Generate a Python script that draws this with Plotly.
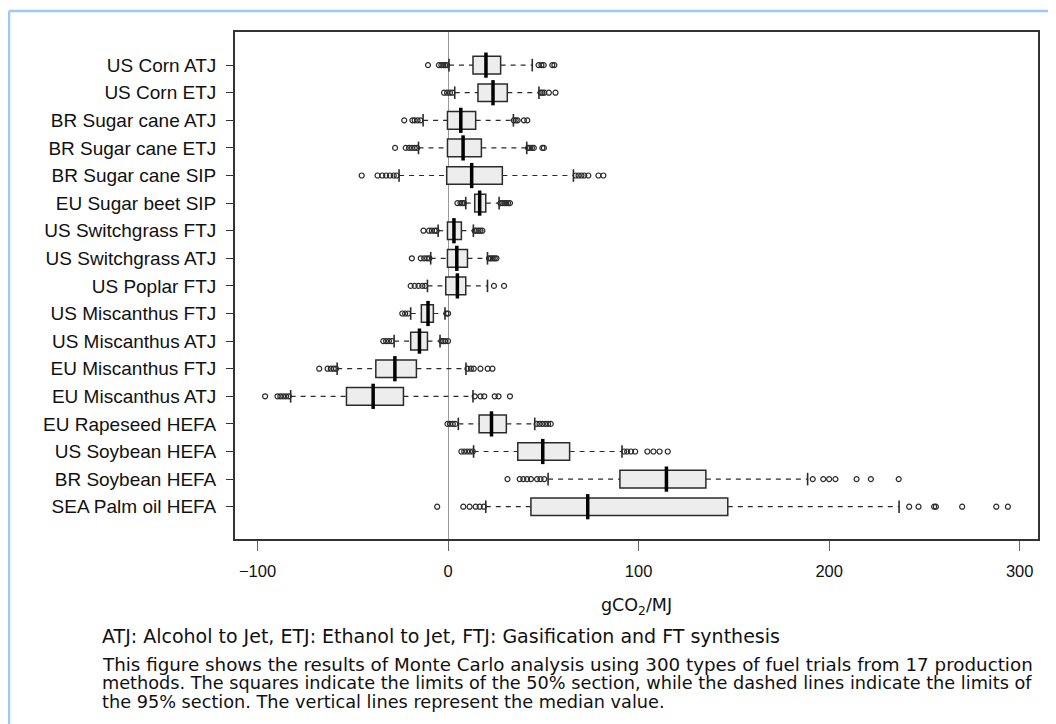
import plotly.graph_objects as go

categories = [
    "US Corn ATJ", "US Corn ETJ", "BR Sugar cane ATJ", "BR Sugar cane ETJ",
    "BR Sugar cane SIP", "EU Sugar beet SIP", "US Switchgrass FTJ",
    "US Switchgrass ATJ", "US Poplar FTJ", "US Miscanthus FTJ",
    "US Miscanthus ATJ", "EU Miscanthus FTJ", "EU Miscanthus ATJ",
    "EU Rapeseed HEFA", "US Soybean HEFA", "BR Soybean HEFA", "SEA Palm oil HEFA",
]
q1 = [13.1, 15.7, -0.3, -0.3, -0.7, 14.0, -0.3, -0.3, -1.2, -14.0, -19.6, -37.9, -53.3, 16.3, 36.6, 90.2, 43.5]
median = [19.9, 23.6, 6.7, 7.9, 12.4, 16.6, 3.1, 4.6, 4.9, -10.5, -15.0, -27.9, -39.3, 22.8, 49.7, 114.6, 73.3]
q3 = [27.6, 31.1, 14.5, 17.5, 28.5, 19.8, 7.0, 10.2, 9.3, -7.7, -10.8, -16.6, -23.4, 30.6, 63.8, 135.3, 146.8]
whisker_low = [0.5, 3.5, -13.1, -15.5, -25.7, 9.3, -5.2, -9.1, -10.8, -19.6, -28.3, -58.2, -82.6, 5.4, 13.4, 52.5, 19.8]
whisker_high = [44.2, 47.7, 34.3, 41.3, 65.8, 26.8, 13.3, 20.7, 20.7, -1.6, -4.2, 9.4, 13.1, 45.5, 91.3, 188.7, 236.7]
outliers = [
    [-10.5, -4.8, -3.5, -2.5, -1.5, -0.5, 47.5, 49.0, 50.2, 54.7, 55.8],
    [-2.1, -0.5, 1.0, 2.3, 48.6, 49.5, 50.5, 52.9, 56.4],
    [-23.0, -18.7, -17.5, -16.0, -14.5, 34.5, 35.5, 36.5, 39.8, 41.6],
    [-27.8, -22.2, -20.5, -19.0, -17.5, -16.2, 42.0, 43.0, 44.0, 45.0, 49.5, 50.3],
    [-45.3, -37.0, -34.5, -32.5, -30.5, -28.5, -27.0, 67.0, 68.5, 70.0, 71.5, 73.6, 78.9, 81.5],
    [4.9, 6.5, 7.5, 8.4, 27.5, 28.5, 29.5, 30.5, 31.5, 32.5],
    [-12.9, -10.0, -8.5, -7.0, -6.0, 14.0, 15.0, 16.0, 17.0, 18.0],
    [-19.0, -14.3, -12.5, -11.0, -9.8, 21.5, 22.5, 23.5, 24.5, 25.4],
    [-19.6, -17.5, -15.5, -13.5, -12.0, 24.1, 29.4],
    [-24.0, -22.5, -21.0, -0.9, 0.0],
    [-34.0, -32.5, -31.0, -29.5, -3.5, -2.5, -1.5, 0.0],
    [-67.6, -63.2, -61.5, -60.0, -58.8, 10.2, 12.0, 13.5, 17.0, 20.8, 23.3],
    [-96.0, -89.5, -88.0, -86.5, -85.0, -83.5, 14.0, 17.0, 19.0, 24.5, 26.5, 32.5],
    [-0.3, 1.0, 2.5, 3.8, 46.5, 48.0, 49.5, 51.0, 52.5, 53.9],
    [7.0, 8.5, 10.0, 11.5, 13.0, 92.4, 94.0, 96.0, 98.2, 104.6, 107.8, 111.0, 115.3],
    [31.2, 37.6, 39.5, 41.5, 43.5, 46.7, 48.5, 50.5, 191.4, 196.9, 200.0, 203.3, 214.4, 221.9, 236.5],
    [-5.7, 8.0, 11.3, 14.5, 16.6, 18.8, 242.0, 246.9, 255.1, 256.0, 269.8, 287.7, 293.8],
]
x_ticks = [-100, 0, 100, 200, 300]
x_title = "gCO<sub>2</sub>/MJ"
caption_lines = [
    "ATJ: Alcohol to Jet, ETJ: Ethanol to Jet, FTJ: Gasification and FT synthesis",
    "This figure shows the results of Monte Carlo analysis using 300 types of fuel trials from 17 production",
    "methods. The squares indicate the limits of the 50% section, while the dashed lines indicate the limits of",
    "the 95% section. The vertical lines represent the median value.",
]

INK = "#2b2b2b"
fig = go.Figure()

fig.add_trace(go.Box(
    y=categories, q1=q1, median=median, q3=q3,
    lowerfence=q1, upperfence=q3, orientation="h",
    fillcolor="#ededed", line=dict(color=INK, width=1.5),
    whiskerwidth=0, boxpoints=False, width=0.64, showlegend=False,
    hoverinfo="skip",
))

wx, wy = [], []
for c, a, b, lo, hi in zip(categories, q1, q3, whisker_low, whisker_high):
    wx += [b, hi, None, lo, a, None]
    wy += [c, c, None, c, c, None]
fig.add_trace(go.Scatter(x=wx, y=wy, mode="lines",
                         line=dict(color=INK, width=1.2, dash="5px,5px"),
                         showlegend=False, hoverinfo="skip"))

sx, sy = [], []
for c, lo, hi in zip(categories, whisker_low, whisker_high):
    sx += [lo, hi]
    sy += [c, c]
fig.add_trace(go.Scatter(x=sx, y=sy, mode="markers",
                         marker=dict(symbol="line-ns", size=9, color=INK,
                                     line=dict(color=INK, width=1.6)),
                         showlegend=False, hoverinfo="skip"))

fig.add_trace(go.Scatter(x=median, y=categories, mode="markers",
                         marker=dict(symbol="line-ns", size=18, color="#000000",
                                     line=dict(color="#000000", width=3.5)),
                         showlegend=False, hoverinfo="skip"))

ox, oy = [], []
for c, vals in zip(categories, outliers):
    ox += vals
    oy += [c] * len(vals)
fig.add_trace(go.Scatter(x=ox, y=oy, mode="markers",
                         marker=dict(symbol="circle-open", size=5, color=INK,
                                     line=dict(color=INK, width=1.2)),
                         showlegend=False, hoverinfo="skip"))

# the page body adds an 8px offset; work in page pixels and convert
OFF = 8
W, H = 1056 - OFF, 724 - OFF
PW, PH = 803, 507
L, T = 235 - OFF, 32 - OFF


def px(x):
    return (x - OFF - L) / PW


def py(y):
    return (T + PH - (y - OFF)) / PH


annotations = [dict(text=x_title, x=px(636), y=py(606), xref="paper", yref="paper",
                    showarrow=False, xanchor="center", yanchor="middle",
                    font=dict(family="DejaVu Sans", size=17.5, color="#111"))]
for line, yc, fs in zip(caption_lines, [636, 664, 683, 702], [19.0, 18.3, 17.7, 17.7]):
    annotations.append(dict(text=line, x=px(100), y=py(yc), xref="paper", yref="paper",
                            showarrow=False, xanchor="left", yanchor="middle",
                            font=dict(family="DejaVu Sans", size=fs, color="#111")))

shapes = [
    dict(type="line", xref="paper", yref="paper", x0=px(9), x1=px(1056), y0=py(11), y1=py(11),
         line=dict(color="#9cc8fa", width=2.5)),
    dict(type="line", xref="paper", yref="paper", x0=px(9), x1=px(9), y0=py(11), y1=py(724),
         line=dict(color="#9cc8fa", width=2.5)),
]

fig.update_layout(
    width=W, height=H,
    margin=dict(l=L, r=W - L - PW, t=T, b=H - T - PH, autoexpand=False),
    paper_bgcolor="white", plot_bgcolor="white",
    font=dict(family="Liberation Sans", color="#111"),
    annotations=annotations, shapes=shapes,
    xaxis=dict(range=[-111.8, 309.6], tickvals=x_ticks, showgrid=False,
               zeroline=True, zerolinecolor="#9a9a9a", zerolinewidth=1.2,
               showline=True, mirror=True, linecolor="#333", linewidth=1.8,
               ticks="outside", ticklen=10, tickwidth=1.3, tickcolor="#666",
               tickfont=dict(family="Liberation Sans", size=16.5, color="#111"),
               ticklabelstandoff=6),
    yaxis=dict(type="category", categoryorder="array", categoryarray=categories,
               range=[17.17, -1.2], showgrid=False, zeroline=False,
               showline=True, mirror=True, linecolor="#333", linewidth=1.8,
               ticks="outside", ticklen=7, tickwidth=1.2, tickcolor="#333",
               tickfont=dict(family="Liberation Sans", size=19, color="#111"),
               ticklabelstandoff=6),
)

fig.write_html("out.html")
